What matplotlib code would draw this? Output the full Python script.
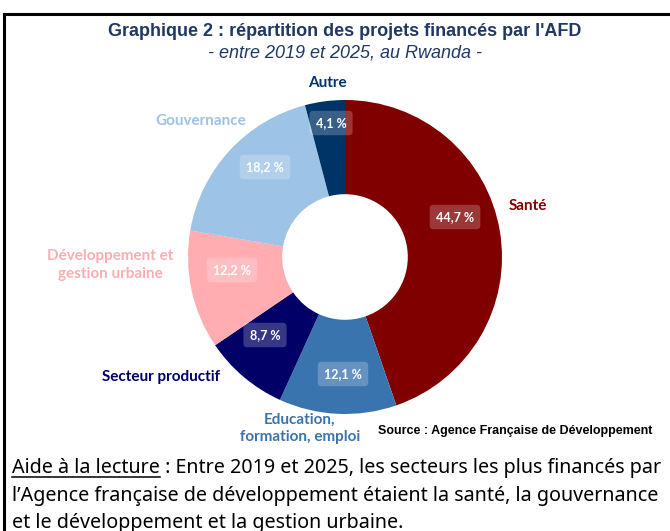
import matplotlib
matplotlib.use("Agg")
import matplotlib.pyplot as plt
from matplotlib.lines import Line2D

# ---- data ----
categories = ["Santé", "Education,\nformation, emploi", "Secteur productif",
              "Développement et\ngestion urbaine", "Gouvernance", "Autre"]
values = [44.7, 12.1, 8.7, 12.2, 18.2, 4.1]
pct_labels = ["44,7 %", "12,1 %", "8,7 %", "12,2 %", "18,2 %", "4,1 %"]
colors = ["#800000", "#3A74AF", "#000066", "#FFADB0", "#9DC3E6", "#003366"]

W, H = 670, 531
fig = plt.figure(figsize=(W / 100, H / 100), dpi=100)
ax = fig.add_axes([0, 0, 1, 1])

def Y(y):  # pixel-from-top -> data
    return H - y

cx, cy, R = 345, 257, 157
wedges, _ = ax.pie(values, colors=colors, startangle=90, counterclock=False,
                   center=(cx, Y(cy)), radius=R,
                   wedgeprops=dict(width=R * 0.6, edgecolor="none"))
ax.set_xlim(0, W)
ax.set_ylim(0, H)
ax.set_aspect("auto")
ax.axis("off")

# percent labels positions (layout)
pct_pos = [(455, 217), (343, 374), (265, 335), (232, 270), (265, 167), (331, 123)]
for (x, y), t in zip(pct_pos, pct_labels):
    ax.text(x, Y(y), t, ha="center", va="center", color="white", fontsize=9,
            fontweight="bold", family="Lato",
            bbox=dict(boxstyle="round,pad=0.5,rounding_size=0.3", fc=(1, 1, 1, 0.22), ec="none"))

# category labels (layout)
cat_pos = [(509, 206, "left"), (300, 428, "center"), (161, 377, "center"),
           (110, 265, "center"), (201, 121, "center"), (327, 83, "center")]
for (x, y, ha), c, col in zip(cat_pos, categories, colors):
    ax.text(x, Y(y), c, ha=ha, va="center", color=col, fontsize=11,
            fontweight="bold", family="Lato", linespacing=1.3,
            multialignment="center")

# title
ax.text(345, Y(32), "Graphique 2 : répartition des projets financés par l'AFD",
        ha="center", va="center", fontsize=13, fontweight="bold",
        family="Liberation Sans", color="#1F3864")
ax.text(345, Y(53), "- entre 2019 et 2025, au Rwanda -", ha="center", va="center",
        fontsize=13, style="italic", family="Liberation Sans", color="#1F3864")

# source
ax.text(515, Y(431), "Source : Agence Française de Développement", ha="center",
        va="center", fontsize=9, fontweight="bold", family="Liberation Sans",
        color="black")

# frame
fig.add_artist(Line2D([4 / W, 1], [Y(14) / H, Y(14) / H], color="black", lw=2.2))
fig.add_artist(Line2D([4 / W, 4 / W], [0, Y(14) / H], color="black", lw=2.2))

# reading aid text
fs = 14.2
fam = "Noto Sans"
t1 = ax.text(12, Y(468), "Aide à la lecture", ha="left", va="center",
             fontsize=fs, family=fam, color="black")
fig.canvas.draw()
r = fig.canvas.get_renderer()
bb = t1.get_window_extent(r)
ax.plot([bb.x0, bb.x1], [bb.y0 + 1, bb.y0 + 1], color="black", lw=1.1)
ax.text(bb.x1, Y(468), " : Entre 2019 et 2025, les secteurs les plus financés par",
        ha="left", va="center", fontsize=fs, family=fam, color="black")
ax.text(12, Y(496), "l’Agence française de développement étaient la santé, la gouvernance",
        ha="left", va="center", fontsize=fs, family=fam, color="black")
ax.text(12, Y(523), "et le développement et la gestion urbaine.",
        ha="left", va="center", fontsize=fs, family=fam, color="black")
ax.set_xlim(0, W)
ax.set_ylim(0, H)

fig.savefig("out.png", dpi=100)
